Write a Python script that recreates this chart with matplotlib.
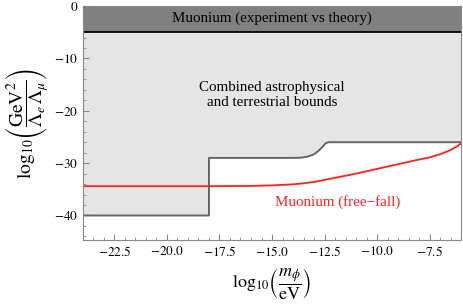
import numpy as np
import matplotlib
matplotlib.use("Agg")
import matplotlib.pyplot as plt
from matplotlib.ticker import MultipleLocator, FuncFormatter

# 既存の制限（天体物理＋地上実験）の境界
bound_x = [-24, -18, -18, -14, -13.6, -13.3, -13.0, -12.8, -12.6, -12.45, -12.3, -6]
bound_y = [-40, -40, -29, -29, -28.95, -28.75, -28.3, -27.7, -26.9, -26.2, -26.0, -26.0]

# ミューオニウム自由落下の感度曲線
ff_x = [-24, -18, -16, -15, -14, -13.5, -13, -12.5, -12, -11, -10, -9, -8, -7.5, -7, -6.5, -6.2, -6]
ff_y = [-34.4, -34.4, -34.35, -34.25, -34.05, -33.85, -33.6, -33.2, -32.8, -32.0, -31.1, -30.2,
        -29.3, -28.9, -28.3, -27.5, -26.8, -26.2]

# 実験 vs 理論の帯
mu_band = [-5, 0]

plt.rcParams['mathtext.fontset'] = 'stix'
plt.rcParams['font.family'] = ['Liberation Serif', 'DejaVu Serif']

fig = plt.figure(figsize=(4.63, 3.07), dpi=100)
ax = fig.add_axes([0.179, 0.218, 0.817, 0.762])

ax.fill_between(bound_x, bound_y, mu_band[0], color='#e5e5e5', lw=0)
ax.fill_between([-24, -6], mu_band[0], mu_band[1], color='#808080', lw=0)
ax.axhline(mu_band[0], color='black', lw=1.3)
ax.plot(bound_x, bound_y, color='#666666', lw=1.4)
ax.plot(ff_x, ff_y, color='#ff2020', lw=1.3)

ax.text(-15.0, -2.4, 'Muonium (experiment vs theory)', ha='center', va='center', fontsize=10.8)
ax.text(-15.0, -17.0, 'Combined astrophysical\nand terrestrial bounds', ha='center', va='center',
        fontsize=10.8, linespacing=1.25)
ax.text(-11.9, -37.5, 'Muonium (free\u2212fall)', ha='center', va='center', fontsize=10.8,
        color='#ff2020')

ax.set_xlim(-24, -6)
ax.set_ylim(-44.7, 0)

ax.xaxis.set_major_locator(MultipleLocator(2.5))
ax.xaxis.set_minor_locator(MultipleLocator(0.5))
ax.yaxis.set_major_locator(MultipleLocator(10))
ax.yaxis.set_minor_locator(MultipleLocator(2))
ax.xaxis.set_major_formatter(FuncFormatter(lambda v, p: f'${v:.1f}$'))
ax.yaxis.set_major_formatter(FuncFormatter(lambda v, p: f'${v:.0f}$'))

ax.tick_params(which='both', direction='in', color='#888888', labelsize=9.5, top=False, right=False)
ax.tick_params(which='major', length=4)
ax.tick_params(which='minor', length=2)
for s in ax.spines.values():
    s.set_color('#888888')

ax.set_xlabel(r'$\log_{10}\!\left(\dfrac{m_\phi}{\mathrm{eV}}\right)$', fontsize=13, labelpad=5)
ax.set_ylabel(r'$\log_{10}\!\left(\dfrac{\mathrm{GeV}^2}{\Lambda_e\,\Lambda_\mu}\right)$', fontsize=14,
              labelpad=2)

fig.savefig('out.png', dpi=100)
